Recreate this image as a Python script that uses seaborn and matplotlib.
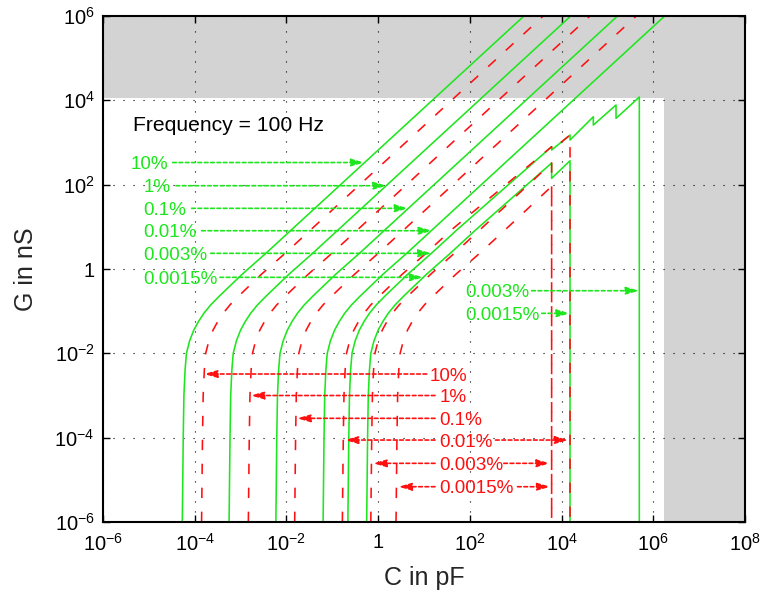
import numpy as np
import pandas as pd
import matplotlib
matplotlib.use("Agg")
import matplotlib.pyplot as plt
from matplotlib.patches import Rectangle
from matplotlib.ticker import FixedLocator, FixedFormatter, NullLocator
import seaborn as sns

# ---------------------------------------------------------------------------
# Data (log10 C in pF, log10 G in nS)
# ---------------------------------------------------------------------------
ACCURACY = ["10%", "1%", "0.1%", "0.01%", "0.003%", "0.0015%"]

# G levels along the rising knee shared by all limit curves
LOG_G_KNEE = [-6.0, -5.0, -4.0, -3.0, -2.4, -2.0, -1.7, -1.45, -1.25, -1.05,
              -0.85, -0.64, -0.40, -0.12, 0.14, 0.38, 0.93]

# solid green limits
green_10_c = [-4.27, -4.26, -4.25, -4.235, -4.21, -4.18, -4.11, -4.02, -3.92, -3.80,
              -3.65, -3.46, -3.23, -2.96, -2.69, -2.44, -1.89, 3.18]
green_10_g = LOG_G_KNEE + [6.0]
green_1_c = [-3.25, -3.24, -3.23, -3.215, -3.19, -3.16, -3.09, -3.00, -2.90, -2.78,
             -2.63, -2.44, -2.21, -1.94, -1.67, -1.42, -0.87, 4.20]
green_1_g = LOG_G_KNEE + [6.0]
green_01_c = [-2.23, -2.22, -2.21, -2.195, -2.17, -2.14, -2.07, -1.98, -1.88, -1.76,
              -1.61, -1.42, -1.19, -0.92, -0.65, -0.40, 0.15, 5.22]
green_01_g = LOG_G_KNEE + [6.0]
green_001_c = [-1.20, -1.19, -1.18, -1.165, -1.14, -1.11, -1.04, -0.95, -0.85, -0.73,
               -0.58, -0.39, -0.16, 0.11, 0.38, 0.63, 1.18, 6.25]
green_001_g = LOG_G_KNEE + [6.0]
green_0003_c = [-0.66, -0.65, -0.64, -0.625, -0.60, -0.57, -0.50, -0.41, -0.31, -0.19,
                -0.04, 0.15, 0.38, 0.65, 0.92, 1.17, 1.72,
                3.783, 3.783, 4.184, 4.184, 4.692, 4.692, 5.187, 5.187, 5.695, 5.695]
green_0003_g = LOG_G_KNEE + [2.90, 2.822, 3.177, 3.059, 3.611, 3.414, 3.889, 3.573, 4.078, -6.0]
green_00015_c = [-0.25, -0.24, -0.23, -0.215, -0.19, -0.16, -0.09, 0.00, 0.10, 0.22,
                 0.37, 0.56, 0.79, 1.06, 1.33, 1.58, 2.13, 3.783, 3.783, 4.184, 4.184]
green_00015_g = LOG_G_KNEE + [2.513, 2.150, 2.568, -6.0]

# dashed red limits
red_10_c = [-3.85, -3.84, -3.83, -3.815, -3.79, -3.76, -3.69, -3.60, -3.50, -3.38,
            -3.23, -3.04, -2.81, -2.54, -2.27, -2.02, -1.47, 3.60]
red_10_g = LOG_G_KNEE + [6.0]
red_1_c = [-2.83, -2.82, -2.81, -2.795, -2.77, -2.74, -2.67, -2.58, -2.48, -2.36,
           -2.21, -2.02, -1.79, -1.52, -1.25, -1.00, -0.45, 4.62]
red_1_g = LOG_G_KNEE + [6.0]
red_01_c = [-1.82, -1.81, -1.80, -1.785, -1.76, -1.73, -1.66, -1.57, -1.47, -1.35,
            -1.20, -1.01, -0.78, -0.51, -0.24, 0.01, 0.56, 5.63]
red_01_g = LOG_G_KNEE + [6.0]
red_001_c = [-0.78, -0.77, -0.76, -0.745, -0.72, -0.69, -0.62, -0.53, -0.43, -0.31,
             -0.16, 0.03, 0.26, 0.53, 0.80, 1.05, 1.60, 3.783, 3.783, 4.184, 4.184]
red_001_g = LOG_G_KNEE + [2.90, 2.822, 3.177, -6.0]
red_0003_c = [-0.16, -0.15, -0.14, -0.125, -0.10, -0.07, 0.00, 0.09, 0.19, 0.31,
              0.46, 0.65, 0.88, 1.15, 1.42, 1.67, 2.22, 3.783, 3.783]
red_0003_g = LOG_G_KNEE + [2.513, -6.0]
red_00015_c = [0.39, 0.40, 0.41, 0.425, 0.45, 0.48, 0.55, 0.64, 0.74, 0.86,
               1.01, 1.20, 1.43, 1.70, 1.97, 2.22, 2.77, 3.783, 3.783]
red_00015_g = LOG_G_KNEE + [1.96, -6.0]

GREEN_CURVES = [(green_10_c, green_10_g), (green_1_c, green_1_g), (green_01_c, green_01_g),
                (green_001_c, green_001_g), (green_0003_c, green_0003_g),
                (green_00015_c, green_00015_g)]
RED_CURVES = [(red_10_c, red_10_g), (red_1_c, red_1_g), (red_01_c, red_01_g),
              (red_001_c, red_001_g), (red_0003_c, red_0003_g), (red_00015_c, red_00015_g)]

# measurable window (pF, nS)
C_MAX = 1.7e6
G_MAX = 1.15e4

X_TICKS = [1e-6, 1e-4, 1e-2, 1, 1e2, 1e4, 1e6, 1e8]
X_LABELS = [r"$10^{-6}$", r"$10^{-4}$", r"$10^{-2}$", r"$1$", r"$10^{2}$", r"$10^{4}$",
            r"$10^{6}$", r"$10^{8}$"]
Y_TICKS = [1e-6, 1e-4, 1e-2, 1, 1e2, 1e4, 1e6]
Y_LABELS = [r"$10^{-6}$", r"$10^{-4}$", r"$10^{-2}$", r"$1$", r"$10^{2}$", r"$10^{4}$",
            r"$10^{6}$"]

GREEN = "#1ee61e"
RED = "#ff1010"

# ---------------------------------------------------------------------------
sns.set_theme(style="white")
plt.rcParams["font.family"] = ["Liberation Sans", "DejaVu Sans"]
plt.rcParams["mathtext.fontset"] = "custom"
plt.rcParams["mathtext.rm"] = "Liberation Sans"
plt.rcParams["mathtext.it"] = "Liberation Sans:italic"
plt.rcParams["mathtext.bf"] = "Liberation Sans:bold"

rows = []
for color, curves in (("green", GREEN_CURVES), ("red", RED_CURVES)):
    for acc, (lc, lg) in zip(ACCURACY, curves):
        for c, g in zip(lc, lg):
            rows.append({"C": 10.0 ** c, "G": 10.0 ** g, "kind": color, "curve": f"{color} {acc}"})
df = pd.DataFrame(rows)

fig = plt.figure(figsize=(7.65, 5.97), dpi=100)
ax = fig.add_axes([0.1346, 0.1256, 0.8393, 0.8476])
ax.set_xscale("log")
ax.set_yscale("log")
ax.set_xlim(1e-6, 1e8)
ax.set_ylim(1e-6, 1e6)
ax.set_facecolor("#d3d3d3")
ax.add_patch(Rectangle((1e-6, 1e-6), C_MAX - 1e-6, G_MAX - 1e-6, facecolor="white",
                       edgecolor="none", zorder=0.2))

sns.lineplot(data=df, x="C", y="G", hue="kind", style="kind", units="curve",
             palette={"green": GREEN, "red": RED},
             dashes={"green": "", "red": (6.5, 8.5)},
             estimator=None, sort=False, legend=False, linewidth=1.15, ax=ax)

# grid and axes frame
ax.grid(True, which="major", color="black", linestyle=(0, (1, 8)), linewidth=0.8, zorder=0.5)
ax.set_axisbelow(True)
ax.xaxis.set_major_locator(FixedLocator(X_TICKS))
ax.xaxis.set_major_formatter(FixedFormatter(X_LABELS))
ax.yaxis.set_major_locator(FixedLocator(Y_TICKS))
ax.yaxis.set_major_formatter(FixedFormatter(Y_LABELS))
ax.xaxis.set_minor_locator(NullLocator())
ax.yaxis.set_minor_locator(NullLocator())
ax.tick_params(which="major", direction="in", length=5, width=1, colors="black",
               bottom=True, top=True, left=True, right=True, labelsize=14.5)
ax.tick_params(axis="x", pad=8)
ax.tick_params(axis="y", pad=6)
for sp in ax.spines.values():
    sp.set_color("black")
    sp.set_linewidth(1.5)

ax.set_xlabel("C in pF", fontsize=18, labelpad=8)
ax.set_ylabel("G in nS", fontsize=18, labelpad=12)

ax.text(10 ** -5.346, 10 ** 3.279, "Frequency = 100 Hz", fontsize=15.2, color="black",
        ha="left", va="baseline")


def arrow(x0, x1, y, color):
    ax.annotate("", xy=(10 ** x1, 10 ** y), xytext=(10 ** x0, 10 ** y),
                arrowprops=dict(arrowstyle="-|>,head_length=0.6,head_width=0.17",
                                color=color, lw=1.2, linestyle=(0, (2.2, 1.6)),
                                shrinkA=0, shrinkB=0, mutation_scale=13), zorder=4)


LABEL_FS = 13.6

# green labels, left column: (text, left x, baseline y, arrow y, arrow start, arrow tip)
green_left = [
    ("10%", -5.389, 2.364, 2.525, -4.480, -0.297),
    ("1%", -5.121, 1.821, 1.975, -4.408, 0.193),
    ("0.1%", -5.121, 1.285, 1.439, -4.066, 0.660),
    ("0.01%", -5.121, 0.754, 0.908, -3.848, 1.181),
    ("0.003%", -5.121, 0.218, 0.372, -3.651, 1.168),
    ("0.0015%", -5.121, -0.351, -0.197, -3.449, 0.987),
]
for txt, xl, yb, ya, xs, xt in green_left:
    ax.text(10 ** xl, 10 ** yb, txt, color=GREEN, fontsize=LABEL_FS, ha="left", va="baseline")
    arrow(xs, xt, ya, GREEN)

# green labels for the upper C limits
green_right = [
    ("0.003%", 1.894, -0.669, -0.515, 3.349, 5.695),
    ("0.0015%", 1.909, -1.205, -1.051, 3.567, 4.184),
]
for txt, xl, yb, ya, xs, xt in green_right:
    ax.text(10 ** xl, 10 ** yb, txt, color=GREEN, fontsize=LABEL_FS, ha="left", va="baseline")
    arrow(xs, xt, ya, GREEN)

# red labels with arrows to the lower C limits
red_left = [
    ("10%", 1.131, -2.645, -2.490, 1.059, -3.80),
    ("1%", 1.349, -3.154, -3.000, 1.240, -2.78),
    ("0.1%", 1.334, -3.695, -3.541, 1.240, -1.77),
    ("0.01%", 1.334, -4.210, -4.056, 1.240, -0.73),
    ("0.003%", 1.334, -4.762, -4.608, 1.240, -0.11),
    ("0.0015%", 1.334, -5.317, -5.163, 1.240, 0.44),
]
for txt, xl, yb, ya, xs, xt in red_left:
    ax.text(10 ** xl, 10 ** yb, txt, color=RED, fontsize=LABEL_FS, ha="left", va="baseline")
    arrow(xs, xt, ya, RED)

# red arrows to the upper C limits
red_right = [(-4.056, 2.56, 4.15), (-4.608, 2.74, 3.748), (-5.163, 3.04, 3.760)]
for ya, xs, xt in red_right:
    arrow(xs, xt, ya, RED)

fig.savefig("out.png", dpi=100)
